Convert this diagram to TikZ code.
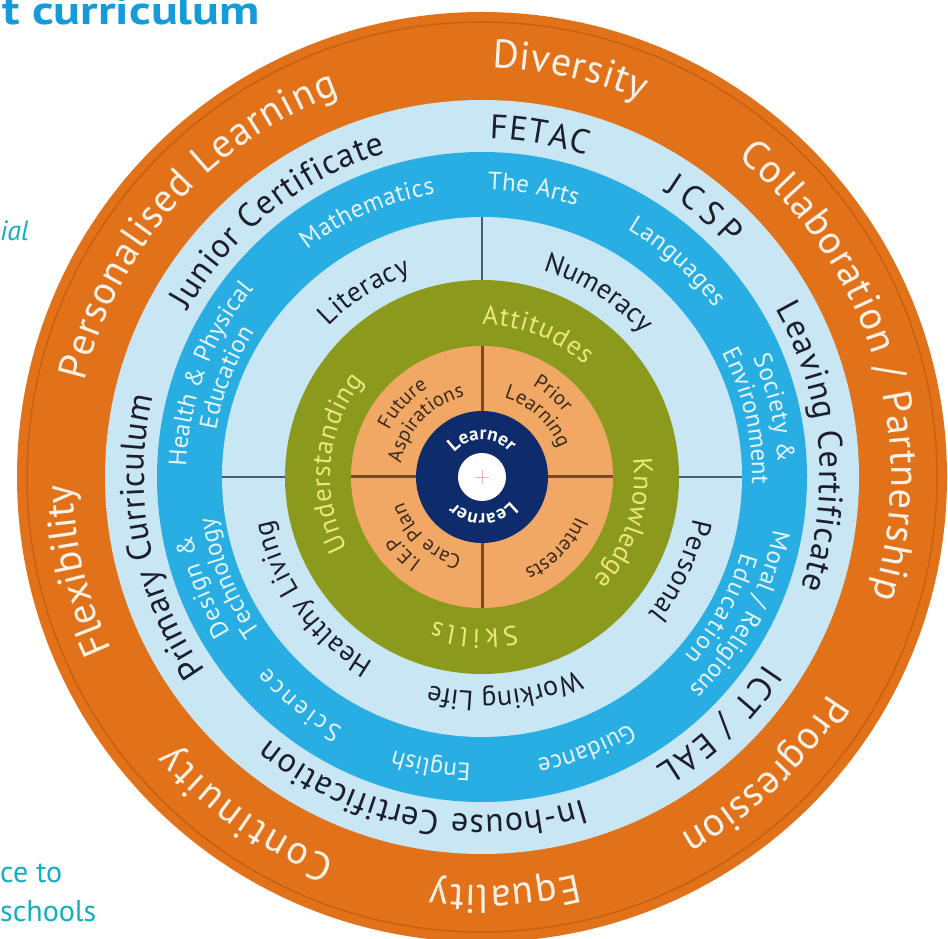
\documentclass[tikz,border=0pt]{standalone}
\usepackage{fontspec}
\setmainfont{PT Sans}
\usetikzlibrary{decorations.text}
\definecolor{orOut}{HTML}{E2721A}
\definecolor{orLine}{HTML}{C9600F}
\definecolor{lbRing}{HTML}{C9E6F5}
\definecolor{mbRing}{HTML}{29AEE3}
\definecolor{grRing}{HTML}{8B9A1C}
\definecolor{orIn}{HTML}{F2A865}
\definecolor{navyRing}{HTML}{0E2C6B}
\definecolor{orText}{HTML}{FDF1E6}
\definecolor{darkText}{HTML}{1C1E2C}
\definecolor{mbText}{HTML}{E6F5FC}
\definecolor{grText}{HTML}{ECE67E}
\definecolor{brText}{HTML}{3B2A1E}
\definecolor{titleBlue}{HTML}{159BD8}
\definecolor{tealText}{HTML}{16ADBF}
\definecolor{crossLine}{HTML}{4C5B70}
\definecolor{brLine}{HTML}{7A4A22}
\definecolor{pinkCross}{HTML}{EFB4B4}
\newcommand\fOr{\fontsize{40}{40}\selectfont\color{orText}}
\newcommand\fLb{\fontsize{34}{34}\selectfont\color{darkText}}
\newcommand\fMb{\fontsize{25}{25}\selectfont\color{mbText}}
\newcommand\fLi{\fontsize{28}{28}\selectfont\color{darkText}}
\newcommand\fGr{\fontsize{27}{27}\selectfont\color{grText}}
\newcommand\fOi{\fontsize{20.5}{20.5}\selectfont\color{brText}}
\newcommand\fNv{\fontsize{19}{19}\selectfont\bfseries\color{white}}
\newlength\twid
% centred text: radius, start angle, end angle (clockwise), format, text
\newcommand\ctext[5]{%
  \pgfmathsetmacro\amid{(#2+(#3))/2}%
  \path[decorate,decoration={text along path,text align=center,text={|#4|#5}}]
    (C) ++({\amid+85}:#1pt) arc[start angle={\amid+85},end angle={\amid-85},radius=#1pt];}
% spread text: radius, start angle, end angle (clockwise), format, text
\newcommand\ftext[5]{%
  \settowidth\twid{#4#5}%
  \pgfmathsetmacro\plen{#1*pi/180*(#2-(#3))}%
  \ifdim1.1\twid<\plen pt
    \path[decorate,decoration={text along path,text align=fit to path,text={|#4|#5}}]
      (C) ++(#2:#1pt) arc[start angle=#2,end angle=#3,radius=#1pt];
  \else
    \ctext{#1}{#2}{#3}{#4}{#5}%
  \fi}
\tikzset{
  ringline/.style={crossLine,line width=2pt},
  innerline/.style={brLine,line width=3pt},
  sidetext/.style={anchor=base west,inner sep=0pt,text=tealText,font=\fontsize{30}{30}\selectfont}
}
\begin{document}
\begin{tikzpicture}[x=1pt,y=1pt]
\useasboundingbox (0,0) rectangle (948,938);
\clip (0,0) rectangle (948,938);
\coordinate (C) at (482,461);
% rings
\fill[orOut] (C) circle[radius=465pt];
\draw[orLine,line width=1.5pt] (C) circle[radius=455pt];
\fill[lbRing] (C) circle[radius=377pt];
\fill[mbRing] (C) circle[radius=325pt];
\fill[lbRing] (C) circle[radius=260pt];
\fill[grRing] (C) circle[radius=197pt];
\fill[orIn] (C) circle[radius=131pt];
\fill[navyRing] (C) circle[radius=66pt];
\fill[white] (C) circle[radius=24pt];
% divider lines
\foreach \a in {0,90,180}{\draw[ringline] (C) ++(\a:197pt) -- ++(\a:63pt);}
\foreach \a in {0,90,180,270}{\draw[innerline] (C) ++(\a:66pt) -- ++(\a:65pt);}
\draw[pinkCross,line width=0.8pt] (C) ++(-7pt,0) -- ++(14pt,0);
\draw[pinkCross,line width=0.8pt] (C) ++(0,-7pt) -- ++(0,14pt);
% outer orange ring
\ftext{409}{166.5}{110.5}{\fOr}{Personalised Learning}
\ftext{409}{88.6}{67}{\fOr}{Diversity}
\ftext{409}{51.4}{-17}{\fOr}{Collaboration / Partnership}
\ftext{409}{-32}{-61}{\fOr}{Progression}
\ftext{409}{-76.5}{-97.2}{\fOr}{Equality}
\ftext{409}{-111}{-139}{\fOr}{Continuity}
\ftext{409}{205}{182}{\fOr}{Flexibility}
% light blue outer ring
\ftext{338}{150.5}{106.5}{\fLb}{Junior Certificate}
\ftext{338}{88.7}{72}{\fLb}{FETAC}
\ftext{338}{57.5}{43}{\fLb}{JCSP}
\ftext{338}{29.8}{-19.2}{\fLb}{Leaving Certificate}
\ftext{338}{-33.4}{-59}{\fLb}{ICT / EAL}
\ftext{338}{-72.5}{-129}{\fLb}{In-house Certification}
\ftext{338}{215}{166.3}{\fLb}{Primary Curriculum}
% medium blue ring
\ftext{287}{127.6}{99.4}{\fMb}{Mathematics}
\ftext{287}{88.9}{70.8}{\fMb}{The Arts}
\ftext{287}{59.6}{36}{\fMb}{Languages}
\ftext{296}{23.8}{2.7}{\fMb}{Society {\&}}
\ctext{270}{27}{-1}{\fMb}{Environment}
\ftext{296}{-10.3}{-45.6}{\fMb}{Moral / Religious}
\ftext{270}{-16.2}{-41.5}{\fMb}{Education}
\ftext{287}{-59}{-79}{\fMb}{Guidance}
\ftext{287}{-92.2}{-107.2}{\fMb}{English}
\ftext{287}{-119}{-138.4}{\fMb}{Science}
\ftext{296}{211.7}{191.3}{\fMb}{Design {\&}}
\ctext{270}{214.2}{189.1}{\fMb}{Technology}
\ftext{296}{178}{140.5}{\fMb}{Health {\&} Physical}
\ftext{270}{170}{147.8}{\fMb}{Education}
% inner light blue ring
\ftext{215}{135.5}{109.3}{\fLi}{Literacy}
\ftext{215}{73.6}{42}{\fLi}{Numeracy}
\ftext{215}{-11.2}{-39.5}{\fLi}{Personal}
\ftext{215}{-63.8}{-104}{\fLi}{Working Life}
\ftext{215}{-120.3}{-168.4}{\fLi}{Healthy Living}
% green ring
\ftext{152}{90}{47.3}{\fGr}{Attitudes}
\ftext{152}{7}{-42.6}{\fGr}{Knowledge}
\ftext{152}{-77}{-108.5}{\fGr}{Skills}
\ftext{152}{208}{140.6}{\fGr}{Understanding}
% inner orange ring
\ftext{104}{153.4}{121.3}{\fOi}{Future}
\ctext{82}{168}{104.5}{\fOi}{Aspirations}
\ctext{104}{59.6}{39.5}{\fOi}{Prior}
\ctext{82}{71}{24}{\fOi}{Learning}
\ftext{102}{-22.7}{-64.6}{\fOi}{Interests}
\ftext{104}{234.7}{214.5}{\fOi}{I.E.P}
\ctext{82}{253.5}{199.8}{\fOi}{Care Plan}
% navy ring
\ctext{37}{136.7}{44}{\fNv}{Learner}
\ctext{37}{-42.5}{-134}{\fNv}{Learner}
% texts outside the wheel
\node[anchor=base west,inner sep=0pt,text=titleBlue,font=\fontsize{40}{40}\selectfont\bfseries] (title) at (2,913) {\scalebox{1.25}[1]{t curriculum}};
\node[sidetext,font=\fontsize{28}{28}\selectfont\itshape] (ial) at (0,697) {ial};
\node[sidetext] (ceto) at (0,56) {ce to};
\node[sidetext] (schools) at (0,17) {schools};
\end{tikzpicture}
\end{document}
